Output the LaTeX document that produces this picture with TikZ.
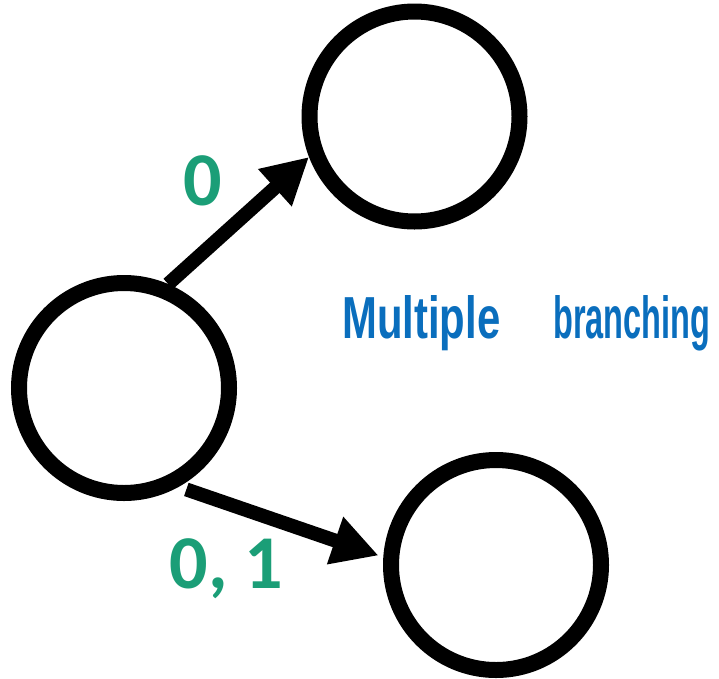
\documentclass[tikz,border=0pt]{standalone}
\usepackage{fontspec}
\usetikzlibrary{arrows.meta}
\newfontfamily\labfont{Carlito}
\newfontfamily\handfont{Liberation Sans}
\definecolor{labgreen}{HTML}{1B9E77}
\definecolor{handblue}{HTML}{0A6EBD}
\begin{document}
\begin{tikzpicture}[x=1pt,y=-1pt,
  state/.style={circle,draw=black,line width=16pt,minimum size=210pt,inner sep=0pt},
  edge/.style={line width=14pt,-{Triangle[length=46pt,width=47pt]}},
  lab/.style={text=labgreen,font=\labfont\bfseries\fontsize{76}{76}\selectfont,inner sep=0pt,anchor=base}]
\useasboundingbox[fill=white] (0,0) rectangle (719,678);
\node[state] (left) at (124,388) {};
\node[state] (top) at (414.5,116.5) {};
\node[state] (bot) at (496,565) {};
\draw[edge] (left.67.5) -- (top.201.3);
\draw[edge,shorten <=8pt,shorten >=5pt] (left.-61.1) -- (bot.176.6);
\node[lab] (l0) at (203,205) {0};
\node[lab] (l01) at (226.5,588) {0, 1};
\node[anchor=base west,inner sep=0pt,text=handblue,font=\handfont\bfseries] (hw) at (342,338)
  {\resizebox{158pt}{43pt}{Multiple}\hspace{53pt}\resizebox{157pt}{43pt}{branching}};
\end{tikzpicture}
\end{document}
